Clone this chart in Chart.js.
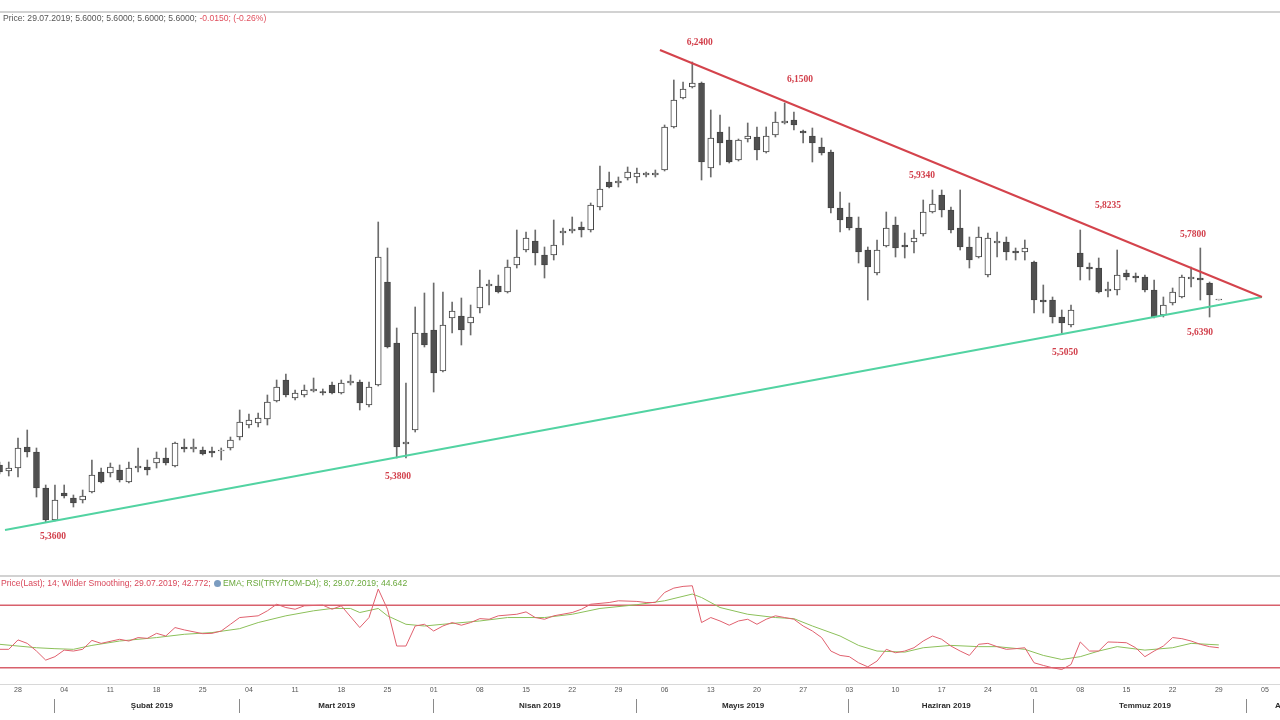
<!DOCTYPE html>
<html>
<head>
<meta charset="utf-8">
<script src="https://cdn.jsdelivr.net/npm/chart.js@4.4.1/dist/chart.umd.min.js"></script>
<style>
html,body{margin:0;padding:0;background:#fff;}
#wrap{position:relative;width:1280px;height:720px;overflow:hidden;background:#fff;font-family:"Liberation Sans",Arial,sans-serif;}
canvas{position:absolute;left:0;}
#main{top:12px;}
#rsi{top:577px;}
.hline{position:absolute;left:0;width:1280px;height:0;border-top:2px solid #d2d2d2;}
.hdr{position:absolute;left:3px;font-size:8.6px;white-space:nowrap;line-height:10px;}
.ico{display:inline-block;width:7px;height:7px;border-radius:50%;background:#7b9cc0;margin:0 2px 0 1px;vertical-align:-1px;}
</style>
</head>
<body>
<div id="wrap">
  <canvas id="main" width="1280" height="564"></canvas>
  <canvas id="rsi" width="1280" height="143"></canvas>
  <div class="hline" style="top:11px"></div>
  <div class="hline" style="top:575px"></div>
  <div class="hline" style="top:684px;border-top-width:1px;border-color:#d8d8d8"></div>
  <div class="hdr" style="top:13px;color:#555">Price: 29.07.2019; 5.6000; 5.6000; 5.6000; 5.6000; <span style="color:#e0505e">-0.0150; (-0.26%)</span></div>
  <div class="hdr" style="top:578px;left:1px;color:#d9475a">Price(Last); 14; Wilder Smoothing; 29.07.2019; 42.772; <span class="ico"></span><span style="color:#6aa83c">EMA; RSI(TRY/TOM-D4); 8; 29.07.2019; 44.642</span></div>
</div>
<script>
// ---- daily candles (trading-day index 0 = 28.01.2019, first candle at index -2) ----
const firstDay = -2;
const open = [
5.470,5.458,5.464,5.506,5.496,5.424,5.360,5.414,5.404,5.400,
5.416,5.456,5.454,5.460,5.436,5.464,5.466,5.474,5.484,5.468,
5.506,5.502,5.500,5.498,5.498,5.504,5.526,5.550,5.554,5.562,
5.598,5.640,5.604,5.610,5.618,5.617,5.630,5.614,5.634,5.636,
5.590,5.630,5.836,5.714,5.512,5.540,5.734,5.740,5.658,5.764,
5.768,5.754,5.784,5.828,5.828,5.816,5.870,5.900,5.918,5.890,
5.890,5.934,5.938,5.946,5.940,5.986,6.036,6.034,6.044,6.046,
6.050,6.050,6.060,6.146,6.204,6.226,6.234,6.064,6.136,6.120,
6.080,6.122,6.126,6.096,6.130,6.154,6.160,6.138,6.128,6.106,
6.096,5.984,5.966,5.944,5.900,5.854,5.908,5.950,5.910,5.916,
5.932,5.976,6.010,5.980,5.944,5.906,5.886,5.850,5.914,5.916,
5.898,5.896,5.876,5.800,5.800,5.766,5.750,5.894,5.866,5.864,
5.818,5.820,5.854,5.848,5.846,5.820,5.770,5.794,5.806,5.842,
5.844,5.834,5.800];
const high = [
5.476,5.476,5.524,5.540,5.504,5.430,5.430,5.430,5.410,5.420,
5.480,5.464,5.474,5.470,5.476,5.504,5.480,5.496,5.504,5.516,
5.522,5.522,5.506,5.506,5.504,5.526,5.580,5.572,5.574,5.610,
5.640,5.652,5.620,5.630,5.644,5.622,5.636,5.640,5.650,5.640,
5.636,5.956,5.904,5.744,5.634,5.786,5.814,5.834,5.816,5.796,
5.804,5.790,5.860,5.840,5.850,5.880,5.940,5.936,5.940,5.906,
5.960,5.944,5.966,5.956,5.994,6.068,6.056,6.046,6.066,6.064,
6.056,6.060,6.150,6.240,6.236,6.276,6.236,6.180,6.170,6.146,
6.122,6.154,6.146,6.146,6.176,6.194,6.176,6.140,6.144,6.124,
6.100,6.016,5.994,5.966,5.906,5.920,5.976,5.966,5.934,5.940,
6.000,6.020,6.020,5.986,6.020,5.926,5.946,5.934,5.936,5.926,
5.904,5.920,5.878,5.830,5.806,5.780,5.790,5.940,5.874,5.884,
5.836,5.900,5.860,5.854,5.850,5.840,5.806,5.824,5.850,5.866,
5.904,5.836,5.800];
const low = [
5.452,5.448,5.446,5.486,5.406,5.356,5.358,5.404,5.386,5.394,
5.414,5.434,5.446,5.436,5.434,5.456,5.450,5.464,5.470,5.466,
5.496,5.496,5.490,5.486,5.480,5.500,5.520,5.544,5.546,5.550,
5.596,5.606,5.600,5.606,5.616,5.610,5.612,5.612,5.630,5.580,
5.586,5.628,5.704,5.484,5.484,5.536,5.706,5.616,5.656,5.734,
5.710,5.730,5.774,5.790,5.814,5.814,5.864,5.896,5.870,5.844,
5.880,5.910,5.934,5.926,5.936,5.980,6.024,6.026,6.040,6.034,
6.046,6.046,6.058,6.144,6.202,6.224,6.040,6.046,6.070,6.074,
6.078,6.116,6.080,6.094,6.126,6.152,6.140,6.114,6.076,6.090,
5.974,5.936,5.940,5.874,5.800,5.850,5.906,5.886,5.884,5.894,
5.928,5.974,5.966,5.934,5.900,5.864,5.884,5.846,5.886,5.880,
5.880,5.880,5.774,5.774,5.754,5.734,5.746,5.840,5.840,5.814,
5.806,5.810,5.840,5.836,5.816,5.764,5.766,5.790,5.804,5.826,
5.800,5.766,5.800];
const close = [
5.456,5.464,5.504,5.496,5.424,5.360,5.400,5.408,5.394,5.408,
5.450,5.436,5.466,5.440,5.464,5.468,5.460,5.484,5.474,5.514,
5.502,5.506,5.492,5.494,5.500,5.520,5.556,5.560,5.564,5.596,
5.626,5.610,5.614,5.620,5.622,5.614,5.614,5.634,5.638,5.594,
5.626,5.886,5.706,5.506,5.516,5.734,5.710,5.654,5.750,5.778,
5.740,5.766,5.826,5.832,5.816,5.866,5.886,5.924,5.894,5.870,
5.910,5.938,5.942,5.940,5.990,6.022,6.026,6.038,6.056,6.054,
6.054,6.054,6.146,6.200,6.222,6.234,6.076,6.124,6.114,6.076,
6.120,6.128,6.100,6.128,6.156,6.158,6.150,6.134,6.114,6.094,
5.984,5.960,5.944,5.896,5.866,5.900,5.944,5.904,5.906,5.924,
5.976,5.992,5.980,5.940,5.906,5.880,5.926,5.924,5.918,5.896,
5.894,5.904,5.800,5.796,5.766,5.754,5.780,5.866,5.862,5.816,
5.822,5.850,5.846,5.844,5.820,5.766,5.790,5.816,5.846,5.846,
5.840,5.810,5.800];
const dayIdx = open.map((_, k) => firstDay + k);

// ---- trend lines drawn on the price chart ----
const resistDay = [69.5, 134.67];
const resistPrice = [6.300, 5.806];
const supportDay = [-1.41, 134.67];
const supportPrice = [5.340, 5.806];

// ---- price annotations ----
const noteText  = ['6,2400','6,1500','5,9340','5,8235','5,7800','5,6390','5,5050','5,3800','5,3600'];
const noteDay   = [73.8, 84.66, 97.87, 118.0, 127.2, 127.96, 113.35, 41.14, 3.79];
const notePrice = [6.314, 6.240, 6.048, 5.988, 5.930, 5.734, 5.694, 5.446, 5.326];

// ---- RSI (14, Wilder) and its EMA(8) ----
const rsiDay = [-2,-1,0,1,2,3,4,5,6,7,8,9,11,12,13,14,15,16,17,18,20,21,22,23,24,26,27,28,29,30,31,33,34,35,
37,38,39,40,41,42,43,44,45,46,47,48,49,50,51,52,54,55,56,57,58,60,61,62,64,65,
67,68,69,70,71,72,73,74,75,76,77,78,79,80,81,82,83,84,85,86,87,88,89,90,91,92,93,94,95,96,97,98,99,100,
101,102,103,104,105,106,107,108,109,110,111,112,113,114,115,116,117,118,119,120,121,122,123,124,125,126,127,128,129,130];
const rsiVal = [41.8,41.8,47.8,45.6,40.7,34.9,37.1,41.3,40.7,41.8,47.5,45.6,48.2,47.1,49.3,48.8,52,50.3,55.7,54.2,51.8,52,53.5,57.8,62.1,63.2,66.4,70.6,68.5,67.4,69.6,70,67.4,69.6,
55.7,62.1,80.3,67.4,43.9,43.9,56.7,57.8,53.5,56.7,58.9,57.2,58.9,61.4,61,63.2,64.2,65.7,62.1,61,63.2,65.3,67.4,70.6,71.7,72.8,
72.4,71.7,71.7,78.1,80.9,82,82.4,58.9,62.1,59.9,57.2,59.9,61,57.8,61,63.2,62.1,61,56.7,53.5,49.3,40.7,37.9,37.1,33.2,30.6,34.3,41.8,39.6,40.7,42.8,47.1,50.3,48.2,
43.9,40.7,37.9,45,45.6,43.5,41.8,42.2,42.8,33.2,31.5,30,28.9,32.1,46.5,40.7,40.7,46.5,46.3,46,42.8,37.1,40.7,43.9,49.3,48.6,47.1,45,43.5,42.8];
const emaDay = [-2,0,2,4,6,8,11,15,18,21,24,26,29,32,34,36,37,39,40,42,44,46,50,53,57,60,63,67,70,73,74,76,79,82,84,86,89,91,93,96,98,101,104,106,109,111,113,115,117,119,122,125,127,130];
const emaVal = [45,43.9,42.8,42.2,41.8,44.3,47.1,49.3,51.4,52.5,55,58.9,63.2,66.4,67.9,67.9,65.3,67.9,63.2,57.8,56.7,57.8,59.9,62.1,62.1,64.2,67.9,70.3,72.8,77.1,74.9,68.5,64.2,62.1,61.4,56.7,50.3,44.3,40.7,40,42.8,44.3,43.5,43.5,41.8,37.9,35.3,37.1,40.7,43.5,41.3,42.8,45.6,44.6];
const rsiLevels = [70, 30];

// ---- time axis labels ----
const dayTickIdx = [0,5,10,15,20,25,30,35,40,45,50,55,60,65,70,75,80,85,90,95,100,105,110,115,120,125,130,135];
const dayTickText = ['28','04','11','18','25','04','11','18','25','01','08','15','22','29','06','13','20','27','03','10','17','24','01','08','15','22','29','05'];
const monthText = ['Şubat 2019','Mart 2019','Nisan 2019','Mayıs 2019','Haziran 2019','Temmuz 2019','Ağustos 2019'];
const monthStartIdx = [4, 24, 45, 67, 90, 110, 133];
const monthCenterIdx = [14.5, 34.5, 56.5, 78.5, 100.5, 122, 138.9];

// ---- view window ----
const xView = [-1.9487, 136.625];
const priceView = [5.248, 6.376];
const rsiView = [19, 88];

const isUp = k => close[k] >= open[k];

const notesPlugin = {
  id: 'notes',
  afterDatasetsDraw(chart) {
    const {ctx, scales} = chart;
    ctx.save();
    ctx.font = 'bold 9.5px "Liberation Serif", serif';
    ctx.fillStyle = '#d2404c';
    ctx.textAlign = 'center';
    ctx.textBaseline = 'middle';
    noteText.forEach((t, k) => {
      ctx.fillText(t, scales.x.getPixelForValue(noteDay[k]), scales.y.getPixelForValue(notePrice[k]));
    });
    ctx.restore();
  }
};

const common = {
  responsive: false,
  devicePixelRatio: 1,
  animation: false,
  events: [],
  plugins: { legend: { display: false }, tooltip: { enabled: false } }
};

new Chart(document.getElementById('main'), {
  type: 'bar',
  data: {
    datasets: [
      {
        type: 'line', label: 'resistance', order: 0,
        data: resistDay.map((d, k) => ({x: d, y: resistPrice[k]})),
        borderColor: '#d4434c', borderWidth: 2, pointRadius: 0, tension: 0
      },
      {
        type: 'line', label: 'support', order: 0,
        data: supportDay.map((d, k) => ({x: d, y: supportPrice[k]})),
        borderColor: '#52d3a2', borderWidth: 2, pointRadius: 0, tension: 0
      },
      {
        label: 'body', order: 1, grouped: false,
        data: dayIdx.map((d, k) => ({x: d, y: [open[k], close[k]]})),
        barThickness: 6, minBarLength: 1, borderWidth: 1, borderSkipped: false,
        borderColor: '#454545',
        backgroundColor: c => (c.dataIndex === undefined || isUp(c.dataIndex)) ? '#ffffff' : '#505050'
      },
      {
        label: 'wick', order: 2, grouped: false,
        data: dayIdx.map((d, k) => ({x: d, y: [low[k], high[k]]})),
        barThickness: 1, borderWidth: 0, backgroundColor: '#6c6c6c'
      }
    ]
  },
  options: Object.assign({}, common, {
    scales: {
      x: { type: 'linear', display: false, offset: false, min: xView[0], max: xView[1] },
      y: { type: 'linear', display: false, min: priceView[0], max: priceView[1], beginAtZero: false }
    }
  }),
  plugins: [notesPlugin]
});

const timeAxisPlugin = {
  id: 'timeAxis',
  afterDraw(chart) {
    const {ctx, chartArea, scales} = chart;
    const base = chartArea.bottom;
    ctx.save();
    ctx.textAlign = 'center';
    ctx.textBaseline = 'middle';
    ctx.font = '7px "Liberation Sans", Arial, sans-serif';
    ctx.fillStyle = '#555';
    dayTickIdx.forEach((d, k) => ctx.fillText(dayTickText[k], scales.x.getPixelForValue(d), base + 5.5));
    ctx.font = 'bold 8px "Liberation Sans", Arial, sans-serif';
    ctx.fillStyle = '#2a2a2a';
    monthCenterIdx.forEach((d, k) => ctx.fillText(monthText[k], scales.x.getPixelForValue(d), base + 21));
    ctx.strokeStyle = '#8a8a8a';
    ctx.lineWidth = 1;
    monthStartIdx.forEach(d => {
      const x = Math.round(scales.x.getPixelForValue(d)) - 0.5;
      ctx.beginPath(); ctx.moveTo(x, base + 14); ctx.lineTo(x, base + 28); ctx.stroke();
    });
    ctx.restore();
  }
};

new Chart(document.getElementById('rsi'), {
  type: 'line',
  data: {
    datasets: [
      ...rsiLevels.map(v => ({
        label: 'level ' + v, order: 2,
        data: xView.map(d => ({x: d, y: v})),
        borderColor: '#d8606c', borderWidth: 1.5, pointRadius: 0
      })),
      {
        label: 'EMA', order: 1,
        data: emaDay.map((d, k) => ({x: d, y: emaVal[k]})),
        borderColor: '#8cc05a', borderWidth: 1, pointRadius: 0, tension: 0
      },
      {
        label: 'RSI', order: 0,
        data: rsiDay.map((d, k) => ({x: d, y: rsiVal[k]})),
        borderColor: '#e0606e', borderWidth: 1, pointRadius: 0, tension: 0
      }
    ]
  },
  options: Object.assign({}, common, {
    layout: { padding: { bottom: 35 } },
    scales: {
      x: { type: 'linear', display: false, min: xView[0], max: xView[1] },
      y: { type: 'linear', display: false, min: rsiView[0], max: rsiView[1] }
    }
  }),
  plugins: [timeAxisPlugin]
});
</script>
</body>
</html>
